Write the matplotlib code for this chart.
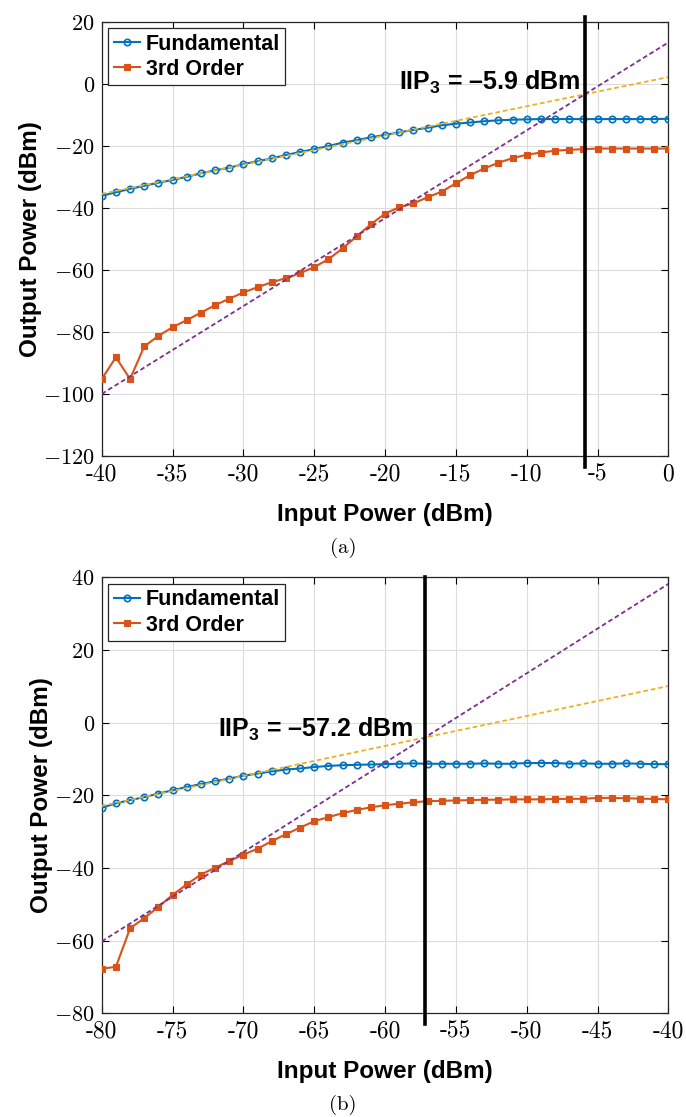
import numpy as np
import matplotlib
matplotlib.use("Agg")
import matplotlib.pyplot as plt

plt.rcParams["mathtext.fontset"] = "cm"
plt.rcParams["mathtext.bf"] = "Liberation Sans:bold"
plt.rcParams["mathtext.rm"] = "Liberation Sans:bold"

# MATLAB default colours
c_fund = "#0072BD"
c_im3 = "#D95319"
c_fit1 = "#EDB120"
c_fit3 = "#7E2F8E"

# (a) sweep -40 .. 0 dBm
pin_a = np.arange(-40, 1)
fund_a = [-36.1, -35.0, -33.9, -32.9, -31.9, -31.0, -30.0, -28.9, -27.9, -27.1,
          -25.9, -25.0, -24.1, -23.0, -22.0, -21.1, -20.1, -19.0, -18.2, -17.3,
          -16.5, -15.7, -14.9, -14.2, -13.4, -12.9, -12.5, -12.1, -11.8, -11.6,
          -11.5, -11.4, -11.4, -11.4, -11.4, -11.4, -11.4, -11.4, -11.4, -11.4,
          -11.3]
im3_a = [-95.2, -88.2, -95.2, -84.7, -81.3, -78.5, -76.2, -73.8, -71.4, -69.3,
         -67.3, -65.6, -64.0, -62.7, -61.1, -59.1, -56.6, -53.1, -49.2, -45.3,
         -41.9, -39.8, -38.6, -36.6, -34.8, -32.1, -29.5, -27.3, -25.5, -24.0,
         -22.9, -22.2, -21.6, -21.3, -21.1, -20.9, -20.9, -20.9, -20.9, -20.9,
         -20.9]
fit_x_a = [-40, 0]
fit1_a = [-35.5, 2.15]
fit3_a = [-100.0, 13.3]
iip3_a = -5.9

# (b) sweep -80 .. -40 dBm
pin_b = np.arange(-80, -39)
fund_b = [-23.4, -22.2, -21.3, -20.5, -19.5, -18.6, -17.7, -16.9, -16.1, -15.4,
          -14.6, -14.0, -13.4, -12.9, -12.6, -12.2, -11.9, -11.7, -11.6, -11.5,
          -11.4, -11.3, -11.2, -11.3, -11.3, -11.3, -11.3, -11.2, -11.3, -11.3,
          -11.1, -11.1, -11.1, -11.3, -11.2, -11.3, -11.3, -11.2, -11.3, -11.4,
          -11.4]
im3_b = [-67.7, -67.2, -56.6, -53.8, -50.7, -47.4, -44.5, -41.8, -39.9, -38.1,
         -36.3, -34.7, -32.6, -30.7, -28.9, -27.1, -26.0, -24.9, -24.0, -23.3,
         -22.7, -22.3, -21.9, -21.6, -21.5, -21.4, -21.3, -21.2, -21.2, -21.1,
         -21.1, -21.1, -21.0, -20.95, -20.95, -20.7, -20.7, -20.8, -20.9, -21.0,
         -21.1]
fit_x_b = [-80, -40]
fit1_b = [-22.9, 10.1]
fit3_b = [-60.2, 38.2]
iip3_b = -57.2

fig = plt.figure(figsize=(6.86, 11.17), dpi=100)
ax_a = fig.add_axes([0.1483, 0.5918, 0.826, 0.3888])
ax_b = fig.add_axes([0.1483, 0.0928, 0.826, 0.3903])


def draw_panel(ax, pin, fund, im3, fit_x, fit1, fit3, iip3, xlim, ylim,
               txt_xy, vline_span):
    ax.plot(pin, fund, "-o", color=c_fund, lw=1.5, ms=4.6, mfc="none",
            mew=1.2, label="Fundamental", zorder=3)
    ax.plot(pin, im3, "-s", color=c_im3, lw=1.5, ms=3.8, mew=0.8,
            label="3rd Order", zorder=3)
    ax.plot(fit_x, fit1, color=c_fit1, lw=1.3, ls=(0, (2.6, 1.6)), zorder=4)
    ax.plot(fit_x, fit3, color=c_fit3, lw=1.3, ls=(0, (2.6, 1.6)), zorder=4)
    ax.plot([iip3, iip3], vline_span, color="black", lw=2.6,
            transform=ax.get_xaxis_transform(), clip_on=False, zorder=5)

    ax.text(txt_xy[0], txt_xy[1],
            r"IIP$_\mathbf{3}$ = –" + f"{abs(iip3):.1f} dBm",
            ha="right", va="baseline", fontsize=18, fontweight="bold",
            family="Liberation Sans", math_fontfamily="custom", zorder=6)

    ax.set_xlim(xlim)
    ax.set_ylim(ylim)
    xt = np.arange(xlim[0], xlim[1] + 1, 5)
    yt = np.arange(ylim[0], ylim[1] + 1, 20)
    ax.set_xticks(xt)
    ax.set_xticklabels([str(v) for v in xt], family="cmr10", fontsize=17)
    ax.set_yticks(yt)
    ax.set_yticklabels([f"${v}$" for v in yt], fontsize=16)
    ax.tick_params(direction="in", top=True, right=True, length=5,
                   width=0.8, pad=5)
    ax.grid(True, color="#dcdcdc", lw=0.8)
    ax.set_axisbelow(True)
    for s in ax.spines.values():
        s.set_linewidth(0.9)
        s.set_color("#262626")

    ax.set_xlabel("Input Power (dBm)", family="Liberation Sans",
                  fontweight="bold", fontsize=17.5, labelpad=13)
    ax.set_ylabel("Output Power (dBm)", family="Liberation Sans",
                  fontweight="bold", fontsize=17.5, labelpad=1)

    leg = ax.legend(loc="upper left", fancybox=False, framealpha=1,
                    edgecolor="#262626", handlelength=1.25,
                    handletextpad=0.25, borderaxespad=0.3, borderpad=0.25,
                    labelspacing=0.2,
                    prop={"family": "Liberation Sans", "weight": "bold",
                          "size": 15.5})
    leg.get_frame().set_linewidth(0.9)


draw_panel(ax_a, pin_a, fund_a, im3_a, fit_x_a, fit1_a, fit3_a, iip3_a,
           (-40, 0), (-120, 20), (-6.2, -2.1), [-0.025, 1.01])
draw_panel(ax_b, pin_b, fund_b, im3_b, fit_x_b, fit1_b, fit3_b, iip3_b,
           (-80, -40), (-80, 40), (-58.0, -3.8), [-0.025, 1.0])

fig.text(0.5, 1 - 548 / 1117, "(a)", family="cmr10", fontsize=15,
         ha="center", va="center")
fig.text(0.5, 1 - 1105 / 1117, "(b)", family="cmr10", fontsize=15,
         ha="center", va="center")

fig.savefig("out.png", dpi=100)
